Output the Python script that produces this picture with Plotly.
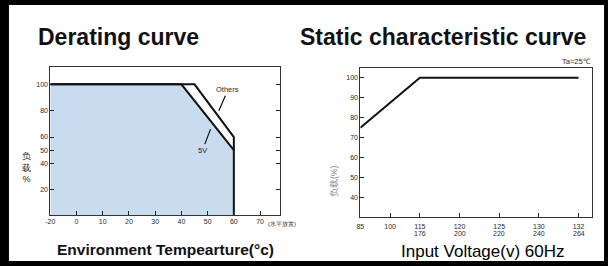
import plotly.graph_objects as go
import numpy as np

# ---------------- data ----------------
temp_ticks = [-20, 0, 10, 20, 30, 40, 50, 60, 70]
load_ticks_left = [20, 40, 50, 60, 80, 100]
v5_temp = [-20, 40, 60, 60]
v5_load = [100, 100, 50, 0]
others_temp = [-20, 45, 60, 60]
others_load = [100, 100, 60, 50]

vin_low = [85, 100, 115, 120, 125, 130, 132]
vin_high = ["", "", "176", "200", "220", "240", "264"]
load_ticks_right = [40, 50, 60, 70, 80, 90, 100]
static_vin = [85, 115, 132]
static_load = [75, 100, 100]

# ---------------- axis scales ----------------
def tpos(t):
    # broken temperature axis: -20..0 drawn as one 10-degree division
    return t / 2.0 if t < 0 else t

tick_gaps = [0.75, 0.75, 1, 1, 1, 1]          # spacing of the voltage ticks
vin_tick_pos = list(np.concatenate([[0], np.cumsum(tick_gaps)]))

def vpos(v):
    return float(np.interp(v, vin_low, vin_tick_pos))

W, H = 608, 266
FONT = "Arial, Liberation Sans, sans-serif"
TXT = "#2a2a2a"

def px_x(p):
    return p / W

def px_y(p):
    return 1 - p / H

fig = go.Figure()

# ---- derating curve ----
fig.add_trace(go.Scatter(
    x=[tpos(t) for t in v5_temp], y=v5_load, mode="lines",
    line=dict(color="#111111", width=2), fill="tozeroy",
    fillcolor="#c8dbef", xaxis="x", yaxis="y", hoverinfo="skip", showlegend=False))
fig.add_trace(go.Scatter(
    x=[tpos(t) for t in others_temp], y=others_load, mode="lines",
    line=dict(color="#111111", width=2), xaxis="x", yaxis="y",
    hoverinfo="skip", showlegend=False))

# ---- static curve ----
fig.add_trace(go.Scatter(
    x=[vpos(v) for v in static_vin], y=static_load, mode="lines",
    line=dict(color="#111111", width=2), xaxis="x2", yaxis="y2",
    hoverinfo="skip", showlegend=False))

tickfont = dict(family=FONT, size=7, color=TXT)
axcommon = dict(showgrid=False, zeroline=False, ticks="inside", ticklen=4,
                tickcolor="#222222", linecolor="#333333", linewidth=1,
                tickfont=tickfont, showline=True)

fig.update_layout(
    width=W, height=H, margin=dict(l=0, r=0, t=0, b=0),
    paper_bgcolor="black", plot_bgcolor="white",
    xaxis=dict(domain=[px_x(45.7), px_x(277)], range=[-10, 77.5],
               tickvals=[tpos(t) for t in temp_ticks],
               ticktext=[str(t) for t in temp_ticks],
               anchor="y", mirror=True, **axcommon),
    yaxis=dict(domain=[px_y(215), px_y(66.7)], range=[0.8, 113.4],
               tickvals=load_ticks_left, anchor="x", mirror="allticks", **axcommon),
    xaxis2=dict(domain=[px_x(358.3), px_x(592.3)], range=[0, 5.85],
                tickvals=[vpos(v) for v in vin_low],
                ticktext=[str(v) for v in vin_low], ticklabelstandoff=2,
                anchor="y2", mirror=True, **axcommon),
    yaxis2=dict(domain=[px_y(217.3), px_y(67.7)], range=[30.2, 105],
                tickvals=load_ticks_right, anchor="x2", mirror=True, **axcommon),
)

# white panel inside the black frame
fig.add_shape(type="rect", xref="paper", yref="paper",
              x0=px_x(4), x1=px_x(604), y0=px_y(261), y1=px_y(5),
              fillcolor="white", line=dict(width=0), layer="below")

ann = []
ann.append(dict(text="<b>Derating curve</b>", x=px_x(114), y=px_y(37),
                font=dict(family=FONT, size=23, color="#111111")))
ann.append(dict(text="<b>Static characteristic curve</b>", x=px_x(441.5), y=px_y(37),
                font=dict(family=FONT, size=23, color="#111111")))
ann.append(dict(text="<b>Environment Tempearture(°c)</b>", x=px_x(161.5), y=px_y(249),
                font=dict(family=FONT, size=15.5, color="#111111")))
ann.append(dict(text="Input Voltage(v) 60Hz", x=px_x(481.5), y=px_y(251),
                font=dict(family=FONT, size=17, color="#000000")))
ann.append(dict(text="负<br>载<br>%", x=px_x(21.7), y=px_y(167),
                font=dict(family=FONT, size=9, color="#222222")))
ann.append(dict(text="负载(%)", x=px_x(331.7), y=px_y(181), textangle=-90,
                font=dict(family=FONT, size=8.5, color="#888888")))
ann.append(dict(text="Ta=25℃", x=px_x(593), y=px_y(62), xanchor="right",
                font=dict(family=FONT, size=7.5, color=TXT)))
ann.append(dict(text="(水平放置)", x=px_x(263), y=px_y(224), xanchor="left",
                font=dict(family=FONT, size=6, color=TXT)))
for a in ann:
    a.update(xref="paper", yref="paper", showarrow=False)
    a.setdefault("xanchor", "center")
    a.setdefault("yanchor", "middle")

# second row of voltage tick labels (placed on the x2 scale)
for v, hi in zip(vin_low, vin_high):
    if hi:
        ann.append(dict(text=hi, x=vpos(v), xref="x2", y=px_y(233.5), yref="paper",
                        showarrow=False, xanchor="center", yanchor="middle",
                        font=tickfont))

# curve labels with leader lines (data coordinates)
ann.append(dict(text="Others", x=54.3, y=80, xref="x", yref="y",
                ax=9, ay=-21, showarrow=True, arrowhead=0, arrowwidth=1.2,
                arrowcolor="#111111", font=dict(family=FONT, size=7.5, color=TXT)))
ann.append(dict(text="5V", x=51.1, y=66, xref="x", yref="y",
                ax=-8, ay=21, showarrow=True, arrowhead=0, arrowwidth=1.2,
                arrowcolor="#111111", font=dict(family=FONT, size=7.5, color=TXT)))
fig.update_layout(annotations=ann)

fig.write_html("out.html")
